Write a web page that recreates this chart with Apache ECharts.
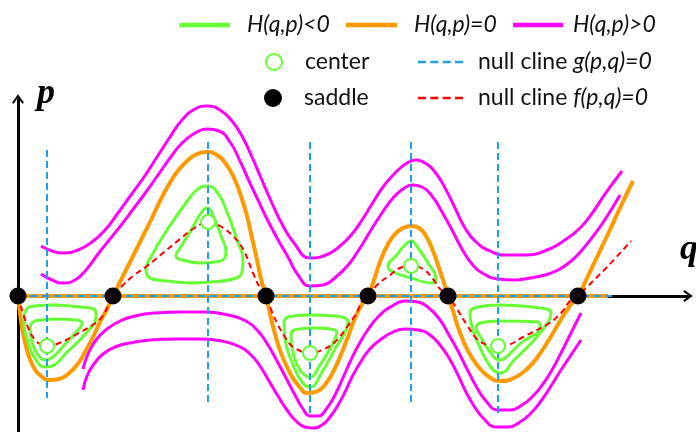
<!DOCTYPE html>
<html><head><meta charset="utf-8">
<script src="https://cdn.jsdelivr.net/npm/echarts@6/dist/echarts.min.js"></script>
<style>html,body{margin:0;padding:0;background:#fff}#c{width:696px;height:432px}</style>
</head><body><div id="c"></div>
<script>
// ---------- data in phase-plane units (q, p) ----------
const saddles = [[0,0],[95,0],[248,0],[350,0],[430,0],[560,0]];
const centers = [[29,-50],[190,74],[292,-57],[393,30],[480,-50]];

// null cline g(p,q)=0 : vertical lines through centers + the q axis
const gNullQ      = [29, 190, 292, 393, 480];
const gNullTop    = [146, 154, 154, 154, 154];
const gNullBottom = [-102, -108, -120, -110, -120];
const gNullAxisEnd = 594;

// null cline f(p,q)=0
const fNull = [[0,0],[9,-29],[17,-44],[24,-49],[29,-50],[39,-48],[59,-38],[82,-23],[92,-6],[95,0],
  [104,10],[115,20],[129,30],[145,43],[162,57],[175,67],[190,74],[202,70],[215,60],[225,47],[235,23],
  [242,8],[248,0],[254,-16],[260,-29],[267,-41],[275,-51],[292,-57],[304,-54],[317,-46],[329,-31],
  [339,-16],[345,-3],[350,0],[359,11],[372,21],[382,28],[393,30],[405,27],[415,17],[422,7],[430,0],
  [439,-13],[449,-29],[459,-43],[470,-49],[480,-50],[490,-49],[505,-41],[530,-28],[543,-17],[552,-5],
  [560,0],[570,10],[590,30],[613,55]];

// H(q,p)=0 separatrix
const separatrix = [[0,0],[2,-17],[5,-37],[9,-54],[15,-70],[23,-80],[32,-84],[41,-83],[50,-78],[59,-69],
  [67,-56],[75,-41],[82,-26],[89,-13],[95,0],[102,14],[109,28],[117,44],[125,60],[133,76],[141,93],
  [150,110],[159,124],[169,135],[179,142],[189,144],[199,141],[208,132],[216,118],[223,100],[229,80],
  [234,58],[239,36],[243,17],[248,0],[252,-18],[257,-38],[263,-57],[271,-75],[280,-89],[290,-97],
  [300,-95],[309,-86],[317,-72],[324,-56],[331,-38],[337,-22],[343,-10],[350,0],[356,16],[362,34],
  [369,50],[377,62],[385,68],[393,70],[401,68],[408,60],[415,45],[421,28],[426,13],[430,0],[435,-15],
  [441,-34],[449,-53],[459,-69],[471,-81],[483,-85],[496,-82],[509,-73],[521,-59],[532,-42],[542,-25],
  [551,-11],[560,0],[569,18],[579,39],[590,62],[602,88],[615,115]];
const separatrixAxis = [[0,0],[590,0]];

// H(q,p)>0 orbits
const hPos1 = [[23,50],[34,45],[45,43],[60,46],[74,54],[87,66],[100,83],[113,101],[126,119],[139,139],
  [152,159],[164,176],[177,187],[189,190],[202,186],[214,175],[225,158],[234,139],[243,118],[253,95],
  [264,72],[276,53],[292,38],[308,41],[322,50],[334,62],[344,76],[354,92],[365,109],[377,123],[389,133],
  [398,136],[407,133],[417,124],[427,108],[437,88],[447,68],[458,54],[472,45],[487,41],[507,41],[529,46],
  [547,56],[562,68],[575,84],[587,102],[604,125]];
const hPos2 = [[23,22],[34,16],[45,13],[57,16],[68,26],[80,42],[92,57],[104,72],[116,88],[128,104],
  [140,121],[152,138],[164,153],[177,163],[189,167],[201,165],[212,154],[222,135],[231,115],[240,96],
  [249,77],[259,58],[270,39],[280,21],[292,10],[305,11],[319,20],[331,32],[342,48],[353,66],[364,83],
  [375,98],[385,107],[394,111],[404,109],[414,100],[424,84],[434,66],[444,47],[454,32],[466,22],[480,17],
  [497,16],[512,18],[527,21],[540,26],[552,34],[564,46],[576,61],[588,78],[602,101]];
const hPos3 = [[65,-73],[70,-58],[78,-44],[89,-33],[102,-25],[117,-20],[137,-17],[162,-16],[187,-16],
  [210,-19],[228,-25],[240,-35],[250,-49],[259,-65],[268,-82],[277,-99],[285,-113],[292,-120],[300,-120],
  [309,-112],[317,-99],[324,-84],[332,-66],[340,-50],[349,-35],[360,-21],[374,-10],[387,-5],[400,-6],
  [412,-13],[422,-24],[431,-39],[440,-55],[449,-73],[458,-90],[468,-105],[480,-114],[492,-114],[504,-109],
  [515,-100],[525,-88],[534,-74],[543,-57],[552,-39],[563,-17]];
const hPos4 = [[65,-94],[69,-80],[76,-68],[85,-58],[97,-51],[112,-47],[132,-44],[157,-43],[182,-43],
  [204,-45],[220,-50],[232,-58],[242,-70],[251,-85],[260,-100],[269,-114],[278,-125],[287,-131],[295,-132],
  [304,-129],[312,-121],[320,-109],[327,-96],[334,-81],[342,-67],[351,-54],[362,-44],[375,-36],[387,-33],
  [400,-34],[412,-39],[422,-49],[431,-62],[439,-77],[447,-94],[456,-110],[466,-123],[478,-131],[490,-131],
  [502,-126],[513,-117],[523,-105],[533,-90],[543,-74],[553,-59],[563,-44]];

// H(q,p)<0 closed orbits
const hNeg1a = [[37,-9],[62,-11],[77,-14],[78,-20],[69,-36],[49,-56],[34,-70],[27,-71],[18,-64],[10,-46],[6,-24],[8,-14],[17,-10],[37,-9]];
const hNeg1b = [[37,-23],[58,-24],[64,-28],[60,-34],[49,-46],[36,-60],[28,-64],[20,-59],[14,-46],[12,-32],[15,-26],[24,-24],[37,-23]];
const hNeg2a = [[172,13],[192,14],[215,17],[224,24],[225,36],[219,56],[209,84],[199,104],[189,110],[180,107],[170,96],[149,66],[134,41],[128,26],[132,18],[149,15],[172,13]];
const hNeg2b = [[182,33],[197,34],[206,37],[208,44],[203,60],[196,78],[189,88],[183,83],[172,64],[162,48],[158,40],[164,36],[182,33]];
const hNeg3a = [[290,-19],[317,-20],[330,-26],[328,-34],[317,-53],[304,-76],[292,-91],[284,-86],[274,-66],[267,-43],[266,-28],[270,-21],[290,-19]];
const hNeg3b = [[297,-32],[319,-36],[314,-49],[302,-69],[292,-81],[282,-74],[275,-56],[273,-41],[276,-34],[297,-32]];
const hNeg4  = [[397,17],[414,13],[418,17],[410,33],[400,48],[393,55],[386,50],[378,40],[370,30],[373,25],[397,17]];
const hNeg5a = [[480,-9],[523,-12],[533,-17],[530,-26],[517,-43],[497,-63],[482,-77],[472,-70],[460,-47],[453,-27],[452,-17],[460,-11],[480,-9]];
const hNeg5b = [[480,-25],[520,-26],[522,-31],[503,-47],[487,-62],[482,-64],[470,-53],[462,-40],[458,-32],[462,-27],[480,-25]];

// ---------- styling ----------
const GREEN = '#66FF33', ORANGE = '#FF9900', MAGENTA = '#FF00FF', BLUE = '#1E9FEF', RED = '#FF0000';
const FONT = 'Lato';
const FS = 23, LH = 26;

function curve(name, data, color, width, z, extra) {
  return Object.assign({
    type: 'line', name: name, data: data, smooth: 0.5, symbol: 'none', showSymbol: false,
    silent: true, z: z, color: color,
    lineStyle: { color: color, width: width }, itemStyle: { color: color }
  }, extra || {});
}

const series = [];
[hPos1, hPos2, hPos3, hPos4].forEach(d => series.push(curve('H(q,p)>0', d, MAGENTA, 3, 2)));
series.push(curve('H(q,p)=0', separatrix, ORANGE, 4, 3));
series.push(curve('H(q,p)=0', separatrixAxis, ORANGE, 4, 3, { smooth: false }));
[hNeg1a, hNeg1b, hNeg2a, hNeg2b, hNeg3a, hNeg3b, hNeg4, hNeg5a, hNeg5b].forEach(d =>
  series.push(curve('H(q,p)<0', d, GREEN, 3, 4)));
series.push(curve('null cline f(p,q)=0', fNull, RED, 2, 5, { smooth: 0.4, lineStyle: { color: RED, width: 2, type: [6, 4] } }));
gNullQ.forEach((q, i) => series.push(curve('null cline g(p,q)=0', [[q, gNullTop[i]], [q, gNullBottom[i]]], BLUE, 2, 6,
  { smooth: false, lineStyle: { color: BLUE, width: 2, type: [7, 4] } })));
series.push(curve('null cline g(p,q)=0', [[0, 0], [gNullAxisEnd, 0]], BLUE, 2, 6,
  { smooth: false, lineStyle: { color: BLUE, width: 2, type: [7, 5] } }));
series.push({ type: 'scatter', name: 'center', data: centers, symbol: 'circle', symbolSize: 14, z: 8, silent: true,
  itemStyle: { color: '#fff', borderColor: GREEN, borderWidth: 2, opacity: 1 } });
series.push({ type: 'scatter', name: 'saddle', data: saddles, symbol: 'circle', symbolSize: 17, z: 9, silent: true,
  itemStyle: { color: '#000', opacity: 1 } });

const DASH = 'path://M0,0h8v2.4h-8z M12.4,0h8v2.4h-8z M24.8,0h8v2.4h-8z M37.2,0h8v2.4h-8z';
function lg(name, left, top, icon, w, h, pad, italicAll) {
  return {
    left: left, top: top, padding: 0, itemWidth: w, itemHeight: h, selectedMode: false,
    data: [{ name: name, icon: icon }],
    formatter: italicAll ? '{i|' + name + '}' :
      (name.indexOf('null cline') === 0 ? '{s|null cline }{j|' + name.slice(11) + '}' : '{s|' + name + '}'),
    textStyle: {
      fontFamily: FONT, fontSize: FS, color: '#111', lineHeight: LH,
      rich: {
        i: { fontFamily: FONT, fontSize: FS, fontStyle: 'italic', color: '#111', lineHeight: LH, padding: [0, 0, 0, pad] },
        s: { fontFamily: FONT, fontSize: FS, color: '#111', lineHeight: LH, padding: [0, 0, 0, pad] },
        j: { fontFamily: FONT, fontSize: FS, fontStyle: 'italic', color: '#111', lineHeight: LH }
      }
    }
  };
}
const ARROW = 'path://M0,8.5 L6,0 L12,8.5 L10.3,9.6 L6,3.4 L1.7,9.6 Z';

const option = {
  animation: false,
  backgroundColor: '#fff',
  grid: { left: 18, right: 8, top: 99, bottom: 0, containLabel: false },
  xAxis: { type: 'value', min: 0, max: 670, axisLine: { onZero: true, symbol: ['none', ARROW], symbolSize: [12, 10],
      lineStyle: { color: '#000', width: 3 } }, axisTick: { show: false }, axisLabel: { show: false }, splitLine: { show: false } },
  yAxis: { type: 'value', min: -136, max: 197, axisLine: { onZero: true, symbol: ['none', ARROW], symbolSize: [12, 10],
      lineStyle: { color: '#000', width: 3 } }, axisTick: { show: false }, axisLabel: { show: false }, splitLine: { show: false } },
  legend: [
    lg('H(q,p)<0', 180, 12, 'rect', 50, 4.5, 12, true),
    lg('H(q,p)=0', 346, 12, 'rect', 51, 4.5, 12, true),
    lg('H(q,p)>0', 513, 12, 'rect', 50, 4.5, 5, true),
    lg('center', 265, 49, 'circle', 16, 16, 18, false),
    lg('saddle', 264, 85, 'circle', 18, 18, 17, false),
    lg('null cline g(p,q)=0', 418, 49, DASH, 45, 2.4, 10, false),
    lg('null cline f(p,q)=0', 418, 85, DASH, 45, 2.4, 10, false)
  ],
  graphic: [
    { type: 'text', left: 37, top: 76, style: { text: 'p', font: 'italic bold 36px "Liberation Serif"', fill: '#000' } },
    { type: 'text', left: 680, top: 232, style: { text: 'q', font: 'italic bold 36px "Liberation Serif"', fill: '#000' } }
  ],
  series: series
};
const chart = echarts.init(document.getElementById('c'), null, { renderer: 'canvas' });
chart.setOption(option);
</script></body></html>
